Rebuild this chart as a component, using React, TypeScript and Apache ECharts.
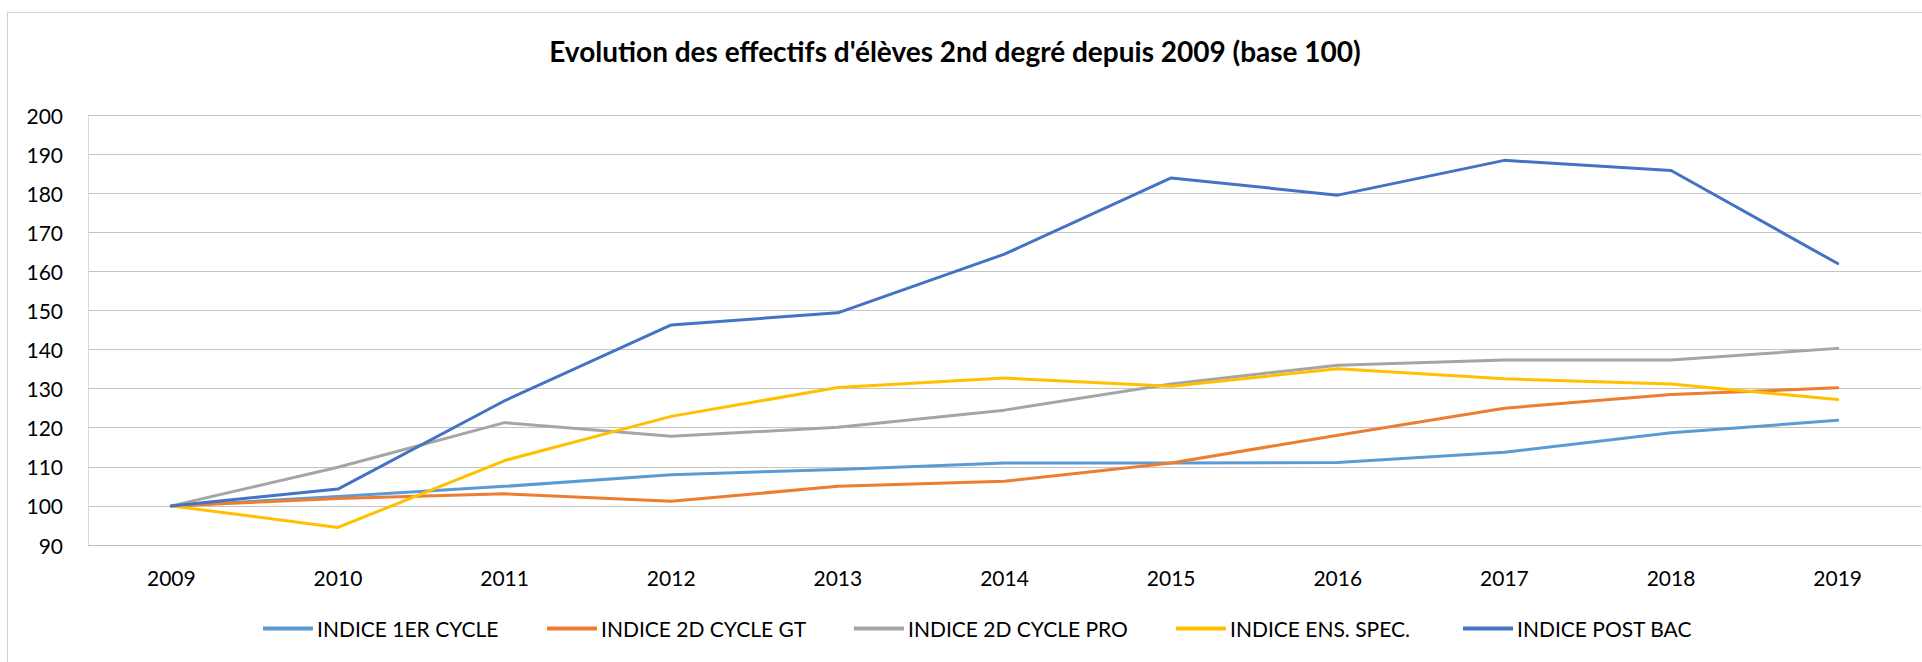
import React, { useEffect, useRef } from "react";
import * as echarts from "echarts";

const years = ["2009", "2010", "2011", "2012", "2013", "2014", "2015", "2016", "2017", "2018", "2019"];
const indice1erCycle = [100, 102.4, 105.0, 108.0, 109.3, 111.0, 111.0, 111.1, 113.7, 118.7, 121.9];
const indice2dCycleGT = [100, 101.9, 103.1, 101.2, 105.0, 106.3, 111.0, 118.1, 125.0, 128.5, 130.2];
const indice2dCyclePro = [100, 109.9, 121.3, 117.8, 120.1, 124.5, 131.2, 136.0, 137.3, 137.3, 140.3];
const indiceEnsSpec = [100, 94.5, 111.6, 122.9, 130.3, 132.7, 130.6, 135.1, 132.5, 131.2, 127.2];
const indicePostBac = [100, 104.3, 126.9, 146.3, 149.4, 164.4, 183.9, 179.5, 188.4, 185.8, 162.0];

const seriesNames = [
  "INDICE 1ER CYCLE",
  "INDICE 2D CYCLE GT",
  "INDICE 2D CYCLE PRO",
  "INDICE ENS. SPEC.",
  "INDICE POST BAC",
];
const seriesData = [indice1erCycle, indice2dCycleGT, indice2dCyclePro, indiceEnsSpec, indicePostBac];
const seriesColors = ["#5B9BD5", "#ED7D31", "#A5A5A5", "#FFC000", "#4472C4"];
const legendLefts = [263, 547, 854, 1176, 1463];

const FONT = "Lato, Carlito, Calibri, 'Noto Sans', sans-serif";

export default function App() {
  const ref = useRef<HTMLDivElement>(null);
  useEffect(() => {
    if (!ref.current) return;
    const chart = echarts.init(ref.current, null, { renderer: "svg" });
    chart.setOption({
      animation: false,
      backgroundColor: "#ffffff",
      title: {
        text: "Evolution des effectifs d'élèves 2nd degré depuis 2009 (base 100)",
        left: 955,
        top: 35,
        textAlign: "center",
        padding: 0,
        textStyle: { fontFamily: FONT, fontSize: 28, fontWeight: "bold", color: "#000", lineHeight: 32 },
      },
      graphic: [
        {
          type: "rect",
          shape: { x: 7.5, y: 12.5, width: 1930, height: 720 },
          style: { fill: "none", stroke: "#d0d0d0", lineWidth: 1 },
          silent: true,
          z: -10,
        },
      ],
      legend: seriesNames.map((n, i) => ({
        data: [{ name: n, icon: "rect" }],
        left: legendLefts[i],
        top: 618,
        padding: 0,
        itemWidth: 50,
        itemHeight: 4,
        itemGap: 0,
        itemStyle: { color: seriesColors[i], borderWidth: 0 },
        textStyle: { fontFamily: FONT, fontSize: 21, color: "#000", padding: [0, 0, 0, -1] },
      })),
      grid: { left: 88, right: 1, top: 115, bottom: 117, containLabel: false },
      xAxis: {
        type: "category",
        data: years,
        boundaryGap: true,
        axisTick: { show: false },
        axisLine: { show: true, lineStyle: { color: "#bfbfbf", width: 1 } },
        axisLabel: { fontFamily: FONT, fontSize: 21, color: "#000", margin: 22 },
        splitLine: { show: false },
      },
      yAxis: {
        type: "value",
        min: 90,
        max: 200,
        interval: 10,
        axisTick: { show: false },
        axisLine: { show: true, lineStyle: { color: "#d9d9d9", width: 1 } },
        axisLabel: { fontFamily: FONT, fontSize: 21, color: "#000", margin: 25 },
        splitLine: { show: true, lineStyle: { color: "#c4c4c4", width: 1 } },
      },
      series: seriesNames.map((n, i) => ({
        name: n,
        type: "line",
        data: seriesData[i],
        symbol: "none",
        color: seriesColors[i],
        lineStyle: { color: seriesColors[i], width: 3, cap: "round", join: "round" },
        emphasis: { disabled: true },
        z: 2 + i,
      })),
    });
    return () => chart.dispose();
  }, []);
  return (
    <div
      ref={ref}
      style={{ position: "fixed", left: 0, top: 0, width: 1922, height: 662 }}
    />
  );
}
